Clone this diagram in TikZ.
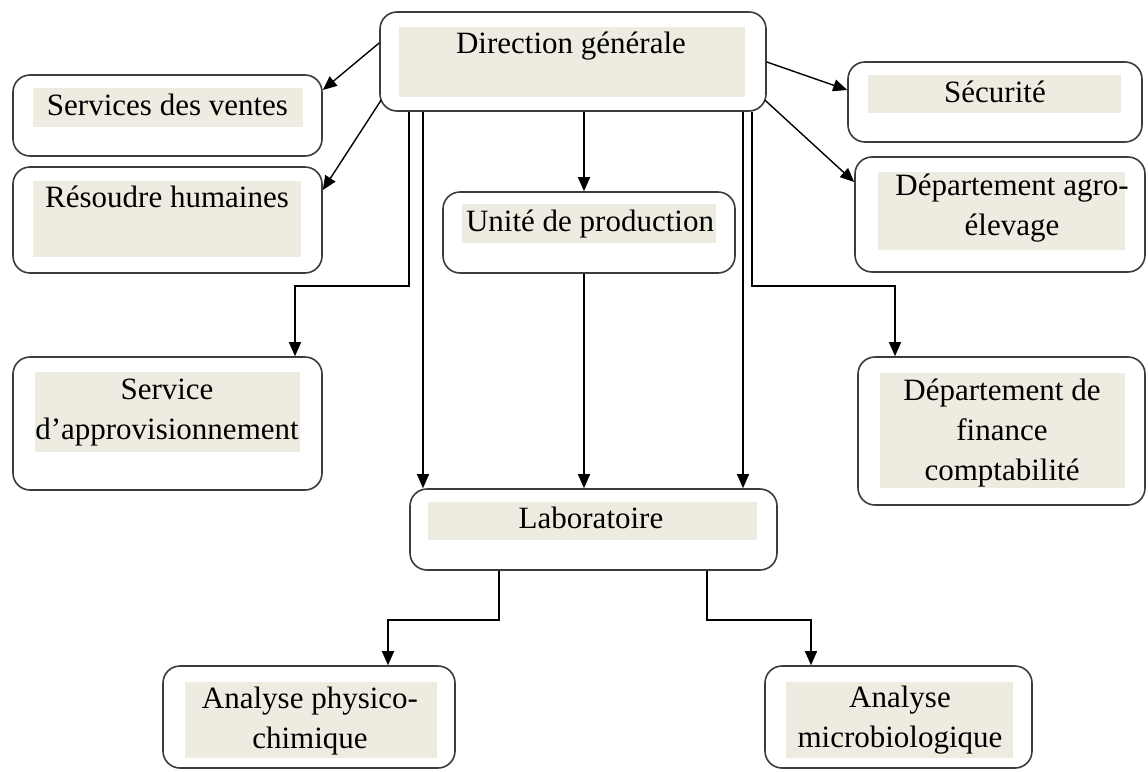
\documentclass[tikz,border=0pt]{standalone}
\usepackage{fontspec}
\setmainfont{Liberation Serif}
\usetikzlibrary{arrows.meta}
\definecolor{boxline}{HTML}{3C3C3C}
\definecolor{hlbeige}{HTML}{EEECE1}
\begin{document}
\begin{tikzpicture}[x=1pt,y=-1pt,
  unitbox/.style={draw=boxline, line width=1.6pt, rounded corners=17pt, fill=white, inner sep=0pt},
  caption/.style={font=\fontsize{31}{40}\selectfont, align=center, inner sep=0pt, anchor=base},
  conn/.style={line width=1.4pt, -{Triangle[length=14pt,width=12pt]}}
]
\useasboundingbox (0,0) rectangle (1148,771);
\fill[white] (0,0) rectangle (1148,771);

% Boxes
\node[unitbox, minimum width=386pt, minimum height=99pt]  (dg)      at (573,61.5)   {};
\node[unitbox, minimum width=309pt, minimum height=81pt]  (ventes)  at (167.5,115.5) {};
\node[unitbox, minimum width=309pt, minimum height=106pt] (rh)      at (167.5,220)  {};
\node[unitbox, minimum width=294pt, minimum height=80pt]  (sec)     at (995,102)    {};
\node[unitbox, minimum width=290pt, minimum height=115pt] (agro)    at (1000,214.5) {};
\node[unitbox, minimum width=292pt, minimum height=81pt]  (unite)   at (589,232.5)  {};
\node[unitbox, minimum width=309pt, minimum height=133pt] (appro)   at (167.5,423.5) {};
\node[unitbox, minimum width=287pt, minimum height=148pt] (finance) at (1001.5,431)  {};
\node[unitbox, minimum width=367pt, minimum height=81pt]  (labo)    at (593.5,529.5) {};
\node[unitbox, minimum width=292pt, minimum height=102pt] (physico) at (309,717)    {};
\node[unitbox, minimum width=267pt, minimum height=102pt] (micro)   at (898.5,717)  {};

% Beige text areas
\fill[hlbeige] (399,27)  rectangle (745,97);
\fill[hlbeige] (33,88)   rectangle (303,127);
\fill[hlbeige] (33,181)  rectangle (301,257);
\fill[hlbeige] (868,75)  rectangle (1121,113);
\fill[hlbeige] (878,172) rectangle (1125,250);
\fill[hlbeige] (462,204) rectangle (716,243);
\fill[hlbeige] (35,372)  rectangle (300,452);
\fill[hlbeige] (880,373) rectangle (1125,488);
\fill[hlbeige] (428,502) rectangle (757,540);
\fill[hlbeige] (185,682) rectangle (437,758);
\fill[hlbeige] (786,682) rectangle (1013,758);

% Labels (anchored at the baseline of their last line)
\node[caption] (dg-t)      at (571,53)    {Direction générale};
\node[caption] (ventes-t)  at (167.5,115) {Services des ventes};
\node[caption] (rh-t)      at (167,207)   {Résoudre humaines};
\node[caption] (sec-t)     at (995,102)   {Sécurité};
\node[caption] (agro-t)    at (1012,235)  {Département agro-\\élevage};
\node[caption] (unite-t)   at (590,231)   {Unité de production};
\node[caption] (appro-t)   at (167,439)   {Service\\d’approvisionnement};
\node[caption] (finance-t) at (1002,480)  {Département de\\finance\\comptabilité};
\node[caption] (labo-t)    at (591,528)   {Laboratoire};
\node[caption] (physico-t) at (310,748)   {Analyse physico-\\chimique};
\node[caption] (micro-t)   at (900,747)   {Analyse\\microbiologique};

% Bend points
\coordinate (bendA) at (295,286);
\coordinate (bendB) at (895,286);
\coordinate (bendC) at (388,620);
\coordinate (bendD) at (811,620);

% Connectors
\draw[conn] ([yshift=18.5pt]dg.west) -- ([yshift=25.5pt]ventes.east);
\draw[conn] ([shift={(2pt,-38.5pt)}]dg.west) -- ([yshift=30pt]rh.east);
\draw[conn] ([yshift=-0.5pt]dg.east) -- ([yshift=12pt]sec.west);
\draw[conn] ([shift={(-2pt,-38.5pt)}]dg.east) -- ([yshift=32.5pt]agro.west);

\draw[conn] ([xshift=-164pt]dg.south) |- (bendA) -- (bendA |- appro.north);
\draw[conn] ([xshift=-150pt]dg.south) -- ([xshift=-170.5pt]labo.north);
\draw[conn] ([xshift=11pt]dg.south) -- ([xshift=-5pt]unite.north);
\draw[conn] ([xshift=-5pt]unite.south) -- ([xshift=-9.5pt]labo.north);
\draw[conn] ([xshift=170pt]dg.south) -- ([xshift=149.5pt]labo.north);
\draw[conn] ([xshift=179pt]dg.south) |- (bendB) -- (bendB |- finance.north);

\draw[conn] ([xshift=-94.5pt]labo.south) |- (bendC) -- (bendC |- physico.north);
\draw[conn] ([xshift=113.5pt]labo.south) |- (bendD) -- (bendD |- micro.north);
\end{tikzpicture}
\end{document}
